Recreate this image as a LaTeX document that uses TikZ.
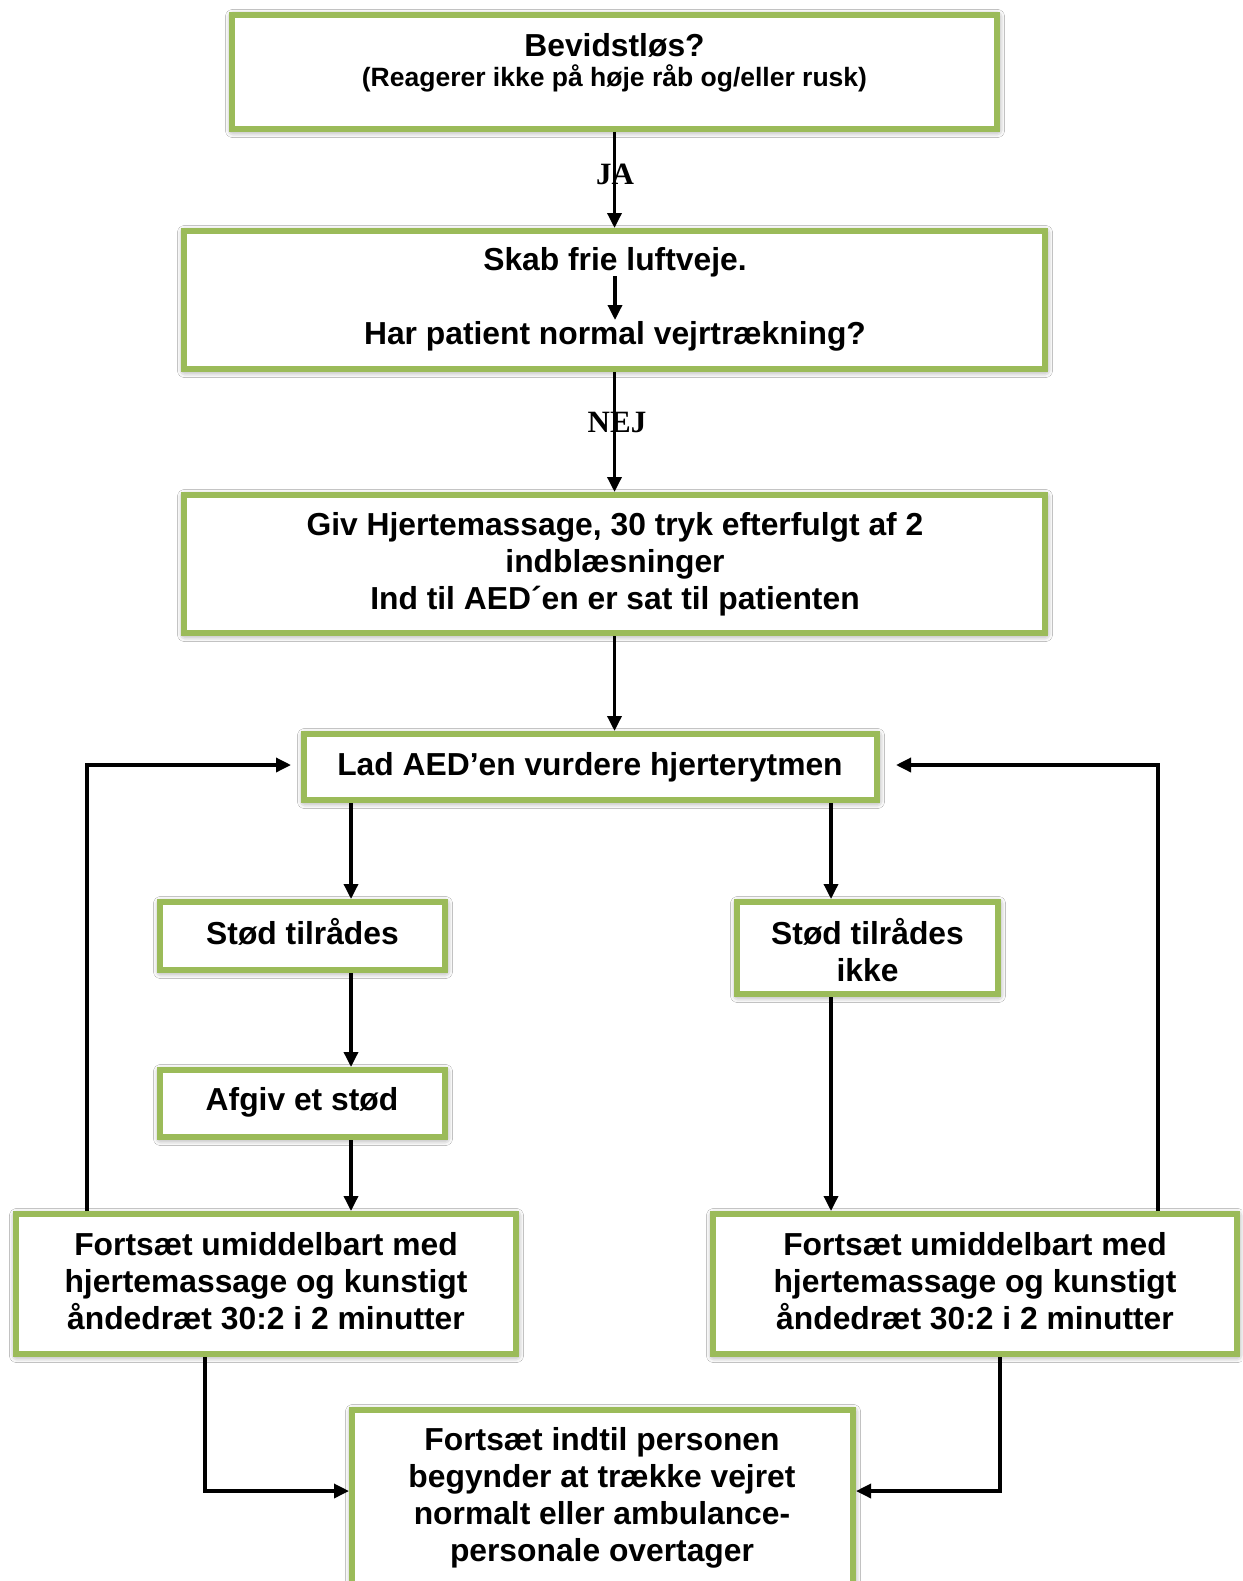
\documentclass[tikz,border=0pt]{standalone}
\usepackage{fontspec}
\setmainfont{Liberation Sans}
\newfontfamily\labelserif{Liberation Serif}
\usetikzlibrary{arrows.meta,shadows.blur}
\definecolor{boxgreen}{HTML}{9BBB59}
\newcommand\bigtxt{\fontsize{31.8}{37}\selectfont\bfseries}
\newcommand\smtxt{\fontsize{26.5}{30}\selectfont\bfseries}
\newcommand\lbltxt{\fontsize{31}{34}\selectfont\labelserif\bfseries}
\begin{document}
\begin{tikzpicture}[x=1pt,y=-1pt,
  box/.style={draw=boxgreen, line width=6pt, fill=white, rectangle, inner sep=0pt,
    blur shadow={shadow xshift=0.5pt, shadow yshift=-1.5pt, shadow blur radius=7pt, shadow opacity=55}},
  arr/.style={draw=black, line width=3.4pt, -{Triangle[length=15pt,width=14pt]}},
  txt/.style={font=\bigtxt, align=center, inner sep=0pt, text=black},
  subtxt/.style={font=\smtxt, align=center, inner sep=0pt, text=black},
  lbl/.style={font=\lbltxt, inner sep=0pt, text=black}]
\fill[white] (0,0) rectangle (1242,1581);
\useasboundingbox (0,0) rectangle (1242,1581);

% boxes
\node[box, minimum width=765pt, minimum height=114pt] (b1) at (614.5,72) {};
\node[box, minimum width=861pt, minimum height=138pt] (b2) at (614.5,300) {};
\node[box, minimum width=861pt, minimum height=138pt] (b3) at (614.5,564) {};
\node[box, minimum width=573pt, minimum height=66pt] (b4) at (590.5,767) {};
\node[box, minimum width=285pt, minimum height=68pt] (b5) at (302.5,936) {};
\node[box, minimum width=261pt, minimum height=92pt] (b6) at (867.5,948) {};
\node[box, minimum width=285pt, minimum height=67pt] (b7) at (302.5,1103.5) {};
\node[box, minimum width=500pt, minimum height=140pt] (b8) at (266,1284) {};
\node[box, minimum width=524pt, minimum height=140pt] (b9) at (975,1284) {};
\node[box, minimum width=501pt, minimum height=207pt] (b10) at (602.5,1513.5) {};

% helper coordinates
\coordinate (xL) at (351,0);
\coordinate (xR) at (831,0);
\coordinate (loopL) at (87,0);
\coordinate (loopR) at (1158,0);
\coordinate (lt) at (291,765);
\coordinate (rt) at (896,765);
\coordinate (bl) at (205,0);
\coordinate (br) at (1000,0);
\coordinate (yb) at (0,1491);
\coordinate (ia) at (615,276);
\coordinate (ib) at (615,320);

% connectors
\draw[arr] (b1.south) -- (b2.north);
\draw[arr] (ia) -- (ib);
\draw[arr] (b2.south) -- (b3.north);
\draw[arr] (b3.south) -- (b4.north -| b3.south);
\draw[arr] (b4.south -| xL) -- (b5.north -| xL);
\draw[arr] (b5.south -| xL) -- (b7.north -| xL);
\draw[arr] (b7.south -| xL) -- (b8.north -| xL);
\draw[arr] (b4.south -| xR) -- (b6.north -| xR);
\draw[arr] (b6.south -| xR) -- (b9.north -| xR);
\draw[arr] (b8.north -| loopL) |- (lt);
\draw[arr] (b9.north -| loopR) |- (rt);
\draw[arr] (b8.south -| bl) |- (b10.west |- yb);
\draw[arr] (b9.south -| br) |- (b10.east |- yb);

% texts
\node[txt] (t1a) at (614.5,45) {Bevidstløs?};
\node[subtxt] (t1b) at (614.5,78.5) {(Reagerer ikke på høje råb og/eller rusk)};
\node[txt] (t2a) at (615,262) {Skab frie luftveje.};
\node[txt] (t2b) at (615,336) {Har patient normal vejrtrækning?};
\node[txt] (t3) at (615,564) {Giv Hjertemassage, 30 tryk efterfulgt af 2\\indblæsninger\\Ind til AED´en er sat til patienten};
\node[txt] (t4) at (590,767) {Lad AED’en vurdere hjerterytmen};
\node[txt] (t5) at (302.5,932) {Stød tilrådes};
\node[txt] (t6) at (867.5,950) {Stød tilrådes\\ikke};
\node[txt] (t7) at (302,1102) {Afgiv et stød};
\node[txt] (t8) at (266,1281.5) {Fortsæt umiddelbart med\\hjertemassage og kunstigt\\åndedræt 30:2 i 2 minutter};
\node[txt] (t9) at (975,1281.5) {Fortsæt umiddelbart med\\hjertemassage og kunstigt\\åndedræt 30:2 i 2 minutter};
\node[txt] (t10) at (602,1498) {Fortsæt indtil personen\\begynder at trække vejret\\normalt eller ambulance-\\personale overtager};

% labels
\node[lbl] (ja) at (615,174) {JA};
\node[lbl] (nej) at (617,422) {NEJ};
\end{tikzpicture}
\end{document}
